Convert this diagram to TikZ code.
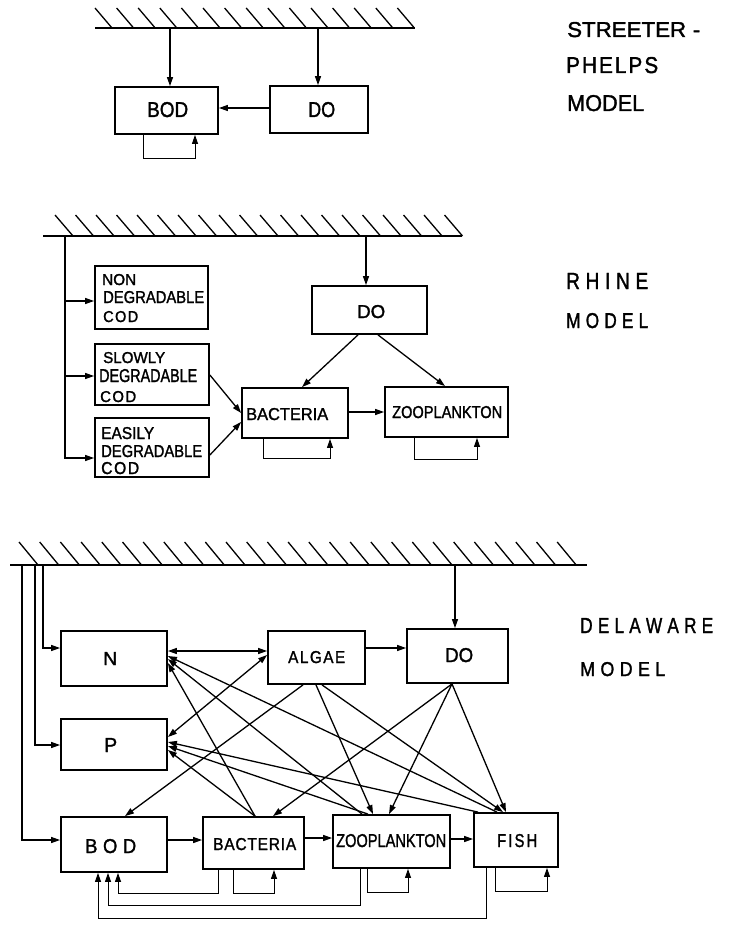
\documentclass[tikz,border=0pt]{standalone}
\usepackage{fontspec}
\setmainfont[FakeBold=1.6]{Liberation Sans}
\usetikzlibrary{arrows.meta,calc}
\newcommand\rs[3]{\resizebox{#1pt}{#2pt}{#3}}
\newcommand\ks{\kern0.3em}
\newcommand\bx[5]{\node[box,minimum width={(#4-#2)*1pt},minimum height={(#5-#3)*1pt}] (#1) at ({(#2+#4)/2},{(#3+#5)/2}) {};}
\begin{document}
\begin{tikzpicture}[x=1pt,y=-1pt,
  box/.style={draw,line width=1.8pt,inner sep=0pt,rectangle},
  con/.style={line width=1.3pt,-{Triangle[length=9pt,width=6pt]}},
  dcon/.style={line width=1.3pt,{Triangle[length=9pt,width=6pt]}-{Triangle[length=9pt,width=6pt]}},
  lp/.style={line width=1pt,-{Triangle[length=9pt,width=6pt]}},
  txt/.style={inner sep=0pt,anchor=base west},
  ground/.style={line width=2pt},
  hatch/.style={line width=1.3pt}]
\useasboundingbox (0,0) rectangle (729,925);

% ================= STREETER-PHELPS =================
\draw[ground] (95,28) -- (415,28);
\foreach \i in {0,...,14} \draw[hatch] ({95+\i*21.6},8) -- ++(17,20);
\bx{spbod}{115}{87}{218}{134}
\bx{spdo}{270}{86}{368}{133}
\node[txt] (spbodt) at (147,117) {\rs{41}{15}{BOD}};
\node[txt] (spdot) at (308,117) {\rs{27}{15}{DO}};
\coordinate (spg1) at (170,28);
\coordinate (spg2) at (318,28);
\draw[con] (spg1) -- (spg1 |- spbod.north);
\draw[con] (spg2) -- (spg2 |- spdo.north);
\draw[con] (spdo.west |- 0,108) -- (spbod.east |- 0,108);
\draw[lp] (spbod.south -| 143,0) -- ++(0,24) -| (spbod.south -| 195,0);
\node[txt] (spt1) at (567,37) {\rs{133}{15}{STREETER\ks-}};
\node[txt] (spt2) at (566,73) {\rs{92}{16}{P\kern.1em H\kern.1em E\kern.1em L\kern.1em P\kern.1em S}};
\node[txt] (spt3) at (567,111) {\rs{77}{16}{MODEL}};

% ================= RHINE =================
\draw[ground] (43,236) -- (462,236);
\foreach \i in {0,...,19} \draw[hatch] ({55+\i*20.5},215) -- ++(18,21);
\bx{rnon}{95}{266}{208}{329}
\bx{rslow}{95}{344}{209}{405}
\bx{reasy}{95}{418}{209}{477}
\bx{rbac}{242}{388}{348}{438}
\bx{rdo}{312}{286}{427}{334}
\bx{rzoo}{385}{387}{508}{437}
\node[txt] (rnon1) at (102,285) {\rs{34}{11}{NON}};
\node[txt] (rnon2) at (103,303) {\rs{101}{12}{DEGRADABLE}};
\node[txt] (rnon3) at (103,322) {\rs{35}{11}{C\kern.1em O\kern.1em D}};
\node[txt] (rslo1) at (103,363) {\rs{62}{11}{SLOWLY}};
\node[txt] (rslo2) at (99,382) {\rs{98}{13}{DEGRADABLE}};
\node[txt] (rslo3) at (100,402) {\rs{36}{11}{C\kern.1em O\kern.1em D}};
\node[txt] (reas1) at (101,439) {\rs{53}{12}{EASILY}};
\node[txt] (reas2) at (101,457) {\rs{101}{12}{DEGRADABLE}};
\node[txt] (reas3) at (101,474) {\rs{38}{12}{C\kern.1em O\kern.1em D}};
\node[txt] (rbact) at (246,420) {\rs{82}{12}{BACTERIA}};
\node[txt] (rdot) at (357,318) {\rs{28}{13}{DO}};
\node[txt] (rzoot) at (392,418) {\rs{110}{12}{ZOOPLANKTON}};
\coordinate (rg) at (65,236);
\coordinate (rgd) at (366,236);
\draw[con] (rg) |- (rnon.west |- 0,301);
\draw[con] (rg) |- (rslow.west |- 0,376);
\draw[con] (rg) |- (reasy.west |- 0,458);
\draw[con] (rgd) -- (rgd |- rdo.north);
\draw[con] (rdo.south -| 358,0) -- (rbac.north -| 302,0);
\draw[con] (rdo.south -| 378,0) -- (rzoo.north -| 445,0);
\draw[con] (rslow.east |- 0,375) -- (rbac.west |- 0,413);
\draw[con] (reasy.east |- 0,455) -- (rbac.west |- 0,422);
\draw[con] (rbac.east |- 0,412) -- (rzoo.west |- 0,412);
\draw[lp] (rbac.south -| 263,0) -- ++(0,20) -| (rbac.south -| 330,0);
\draw[lp] (rzoo.south -| 414,0) -- ++(0,22) -| (rzoo.south -| 477,0);
\node[txt] (rt1) at (566,289) {\rs{82}{16}{R\ks H\ks I\ks N\ks E}};
\node[txt] (rt2) at (566,328) {\rs{82}{15}{M\ks O\ks D\ks E\ks L}};

% ================= DELAWARE =================
\draw[ground] (10,565) -- (587,565);
\foreach \i in {0,...,26} \draw[hatch] ({19+\i*20.7},542) -- ++(19,23);
\bx{dn}{61}{631}{167}{686}
\bx{dp}{61}{719}{167}{770}
\bx{dbod}{61}{817}{167}{872}
\bx{dalg}{268}{631}{365}{684}
\bx{ddo}{407}{629}{508}{683}
\bx{dbac}{203}{817}{304}{869}
\bx{dzoo}{333}{815}{450}{868}
\bx{dfish}{474}{813}{558}{867}
\node[txt] (dnt) at (103,665) {\rs{14}{13}{N}};
\node[txt] (dpt) at (104,752) {\rs{13}{14}{P}};
\node[txt] (dbodt) at (85,853) {\rs{51}{14}{B\ks O\ks D}};
\node[txt] (dalgt) at (288,663) {\rs{57}{12}{A\kern.1em L\kern.1em G\kern.1em A\kern.1em E}};
\node[txt] (ddot) at (445,662) {\rs{28}{14}{DO}};
\node[txt] (dbact) at (213,850) {\rs{83}{12}{B\kern.05em A\kern.05em C\kern.05em T\kern.05em E\kern.05em R\kern.05em I\kern.05em A}};
\node[txt] (dzoot) at (336,847) {\rs{110}{13}{ZOOPLANKTON}};
\node[txt] (dfisht) at (497,847) {\rs{40}{13}{F\kern.15em I\kern.15em S\kern.15em H}};
\node[txt] (dt1) at (580,633) {\rs{133}{15}{D\ks E\ks L\ks A\ks W\ks A\ks R\ks E}};
\node[txt] (dt2) at (580,676) {\rs{85}{14}{M\ks O\ks D\ks E\ks L}};
% inputs from the ground
\coordinate (dgn) at (43,565);
\coordinate (dgp) at (35,565);
\coordinate (dgb) at (22,565);
\coordinate (dgd) at (455,565);
\draw[con] (dgn) |- (dn.west |- 0,648);
\draw[con] (dgp) |- (dp.west |- 0,745);
\draw[con] (dgb) |- (dbod.west |- 0,840);
\draw[con] (dgd) -- (dgd |- ddo.north);
% chain
\draw[con] (dalg.east |- 0,648) -- (ddo.west |- 0,648);
\draw[con] (dbod.east |- 0,840) -- (dbac.west |- 0,840);
\draw[con] (dbac.east |- 0,838) -- (dzoo.west |- 0,838);
\draw[con] (dzoo.east |- 0,839) -- (dfish.west |- 0,839);
% nutrients and algae
\draw[dcon] (dn.east |- 0,651) -- (dalg.west |- 0,651);
\draw[dcon] (dp.east |- 0,737) -- (dalg.west |- 0,655);
\draw[con] (dbac.north -| 255,0) -- (dn.east |- 0,663);
\draw[con] (dbac.north -| 255,0) -- (dp.east |- 0,750);
\draw[con] (dzoo.north -| 362,0) -- (dn.east |- 0,659);
\draw[con] (dzoo.north -| 368,0) -- (dp.east |- 0,746);
\draw[con] (dfish.north -| 497,0) -- (dn.east |- 0,656);
\draw[con] (dfish.north -| 478,0) -- (dp.east |- 0,742);
% algae and DO downward
\draw[con] (dalg.south -| 303,0) -- (dbod.north -| 125,0);
\draw[con] (dalg.south -| 316,0) -- (dzoo.north -| 373,0);
\draw[con] (dalg.south -| 322,0) -- (dfish.north -| 503,0);
\draw[con] (ddo.south -| 452,0) -- (dbac.north -| 273,0);
\draw[con] (ddo.south -| 452,0) -- (dzoo.north -| 389,0);
\draw[con] (ddo.south -| 452,0) -- (dfish.north -| 506,0);
% self loops
\draw[lp] (dbac.south -| 233,0) -- ++(0,24) -| (dbac.south -| 274,0);
\draw[lp] (dzoo.south -| 367,0) -- ++(0,24) -| (dzoo.south -| 408,0);
\draw[lp] (dfish.south -| 495,0) -- ++(0,24) -| (dfish.south -| 547,0);
% returns to BOD
\draw[lp] (dbac.south -| 218,0) -- ++(0,24) -| (dbod.south -| 118,0);
\draw[lp] (dzoo.south -| 360,0) -- ++(0,37) -| (dbod.south -| 108,0);
\draw[lp] (dfish.south -| 486,0) -- ++(0,51) -| (dbod.south -| 98,0);
\end{tikzpicture}
\end{document}
